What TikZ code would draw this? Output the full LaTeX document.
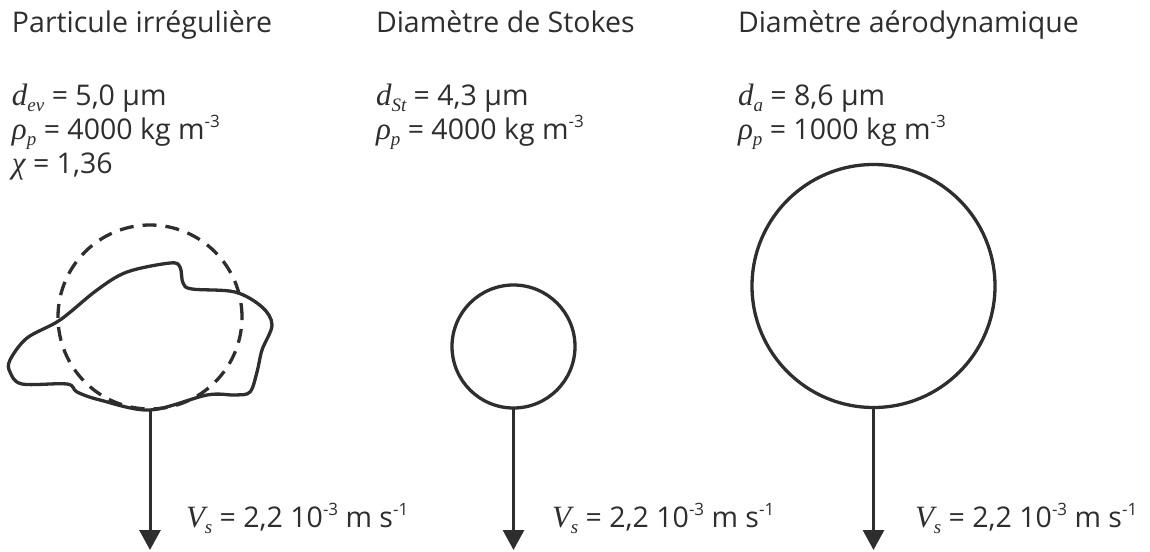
\documentclass[tikz,border=0pt]{standalone}
\usepackage{fontspec}
\setmainfont{Open Sans}
\newfontfamily\itfam{Liberation Serif Italic}
\usetikzlibrary{arrows.meta}
\definecolor{ink}{HTML}{2E2E2E}
\newcommand{\mv}[1]{{\fontsize{31}{31}\selectfont\itfam #1}}
\newcommand{\sbs}[1]{\raisebox{-0.4ex}{\fontsize{19}{19}\selectfont\itfam #1}}
\newcommand{\spw}[1]{\raisebox{0.75ex}{\fontsize{17}{17}\selectfont #1}}
\begin{document}
\begin{tikzpicture}[x=1pt,y=-1pt,
  every node/.style={text=ink,font=\fontsize{28.5}{32}\selectfont,inner sep=0pt,outer sep=0pt},
  lbl/.style={anchor=base west},
  shp/.style={draw=ink,line width=3.3pt},
  ball/.style={shp,circle,minimum size=#1},
  fall/.style={draw=ink,line width=3pt,-{Triangle[width=21pt,length=20pt]}}]
\useasboundingbox (0,0) rectangle (1150,551);
% titles
\node[lbl] (t1) at (12,33) {Particule irrégulière};
\node[lbl] (t2) at (376,33) {Diamètre de Stokes};
\node[lbl] (t3) at (738,33) {Diamètre aérodynamique};
% column 1
\node[lbl] (a1) at (12,105) {\mv{d}\sbs{ev} = 5,0 µm};
\node[lbl] (a2) at (12,139) {\mv{ρ}\sbs{p} = 4000 kg m\spw{-3}};
\node[lbl] (a3) at (12,173) {\mv{χ} = 1,36};
% column 2
\node[lbl] (b1) at (376,105) {\mv{d}\sbs{St} = 4,3 µm};
\node[lbl] (b2) at (376,139) {\mv{ρ}\sbs{p} = 4000 kg m\spw{-3}};
% column 3
\node[lbl] (c1) at (738,105) {\mv{d}\sbs{a} = 8,6 µm};
\node[lbl] (c2) at (738,139) {\mv{ρ}\sbs{p} = 1000 kg m\spw{-3}};
% irregular particle
\node[ball=184pt,dashed,dash pattern=on 14pt off 9pt] (sph) at (150,317) {};
\draw[shp,line join=round] plot[smooth cycle,tension=0.55] coordinates {
 (10,360) (27,338) (60,320) (97,290) (127,272) (170,263) (180,267) (183,283)
 (192,289) (235,292) (262,307) (272,325) (262,350) (257,372) (250,392)
 (235,395) (207,395) (150,410) (100,400) (77,392) (67,384) (22,384) (10,372)};
\coordinate (p1) at (150,410);
% spheres
\node[ball=123pt] (s2) at (513.5,346.5) {};
\node[ball=243pt] (s3) at (873.5,286) {};
% arrows
\coordinate (e1) at (150,550);
\coordinate (e2) at (513.5,550);
\coordinate (e3) at (873.5,550);
\draw[fall] (p1) -- (e1);
\draw[fall] (s2.south) -- (e2);
\draw[fall] (s3.south) -- (e3);
% velocities
\node[lbl] (v1) at (186,527) {\mv{V}\sbs{s} = 2,2 10\spw{-3} m s\spw{-1}};
\node[lbl] (v2) at (552,527) {\mv{V}\sbs{s} = 2,2 10\spw{-3} m s\spw{-1}};
\node[lbl] (v3) at (915,527) {\mv{V}\sbs{s} = 2,2 10\spw{-3} m s\spw{-1}};
\end{tikzpicture}
\end{document}
